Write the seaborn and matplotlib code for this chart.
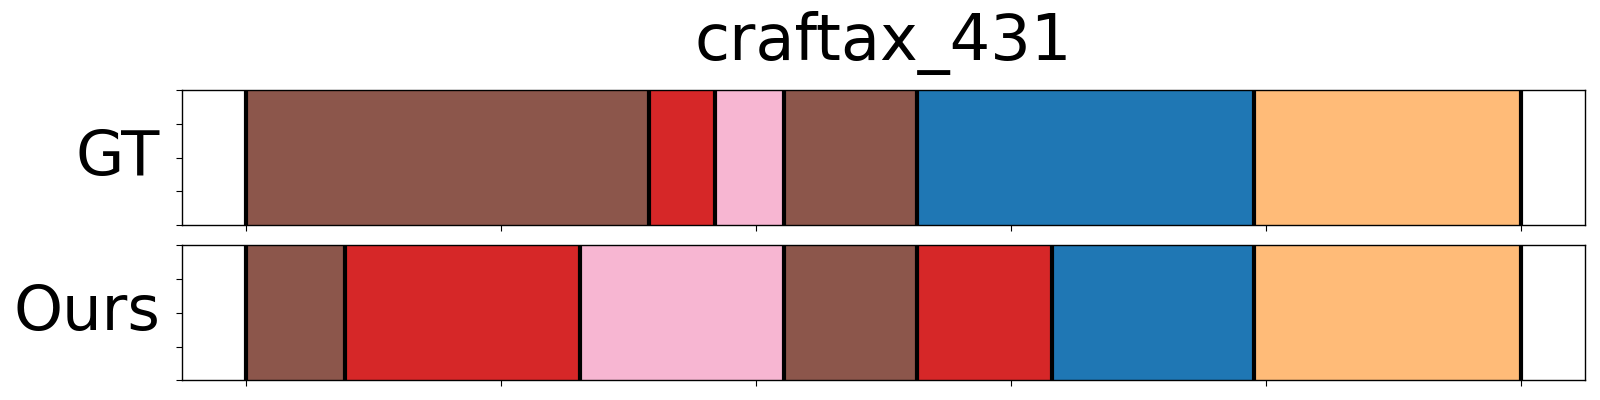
import matplotlib
matplotlib.use('Agg')
import matplotlib.pyplot as plt
import numpy as np
import seaborn as sns

# %% data: segment boundaries (frames) and action class per segment
title = 'craftax_431'
row_names = ['GT', 'Ours']
gt_bounds = [0, 158, 184, 211, 263, 395, 500]
gt_classes = [10, 6, 13, 10, 0, 3]
ours_bounds = [0, 39, 131, 211, 263, 316, 395, 500]
ours_classes = [10, 6, 13, 10, 6, 0, 3]
x_ticks = [0, 100, 200, 300, 400, 500]
y_ticks = [0, 0.25, 0.5, 0.75, 1.0]

# %% plot
sns.set_style('ticks')
plt.rcParams['font.family'] = ['DejaVu Sans']
plt.rcParams['text.color'] = 'black'
palette = sns.color_palette('tab20', 20)

fig = plt.figure(figsize=(16, 4), dpi=100)
ax_gt = fig.add_axes([0.1136, 0.4375, 0.8772, 0.3365])
ax_ours = fig.add_axes([0.1136, 0.049, 0.8772, 0.3375])

for ax, name, bounds, classes in [(ax_gt, row_names[0], gt_bounds, gt_classes),
                                  (ax_ours, row_names[1], ours_bounds, ours_classes)]:
    starts = np.array(bounds[:-1])
    widths = np.diff(bounds)
    ax.barh(0, widths, left=starts, height=1, align='edge',
            color=[palette[c] for c in classes], edgecolor=[palette[c] for c in classes], linewidth=0.5)
    for b in bounds:
        ax.axvline(b, color='black', linewidth=3)
    ax.set_xlim(bounds[0] - 0.05 * bounds[-1], bounds[-1] * 1.05)
    ax.set_ylim(0, 1)
    ax.set_xticks(x_ticks)
    ax.set_yticks(y_ticks)
    ax.set_xticklabels([])
    ax.set_yticklabels([])
    ax.tick_params(colors='black', length=4)
    for s in ax.spines.values():
        s.set_color('black')
        s.set_linewidth(1.0)
    ax.set_ylabel(name, fontsize=45, rotation=0, ha='right', va='center', labelpad=8, color='black')

ax_gt.set_title(title, fontsize=46, pad=22, color='black')

fig.savefig('out.png', dpi=100)
